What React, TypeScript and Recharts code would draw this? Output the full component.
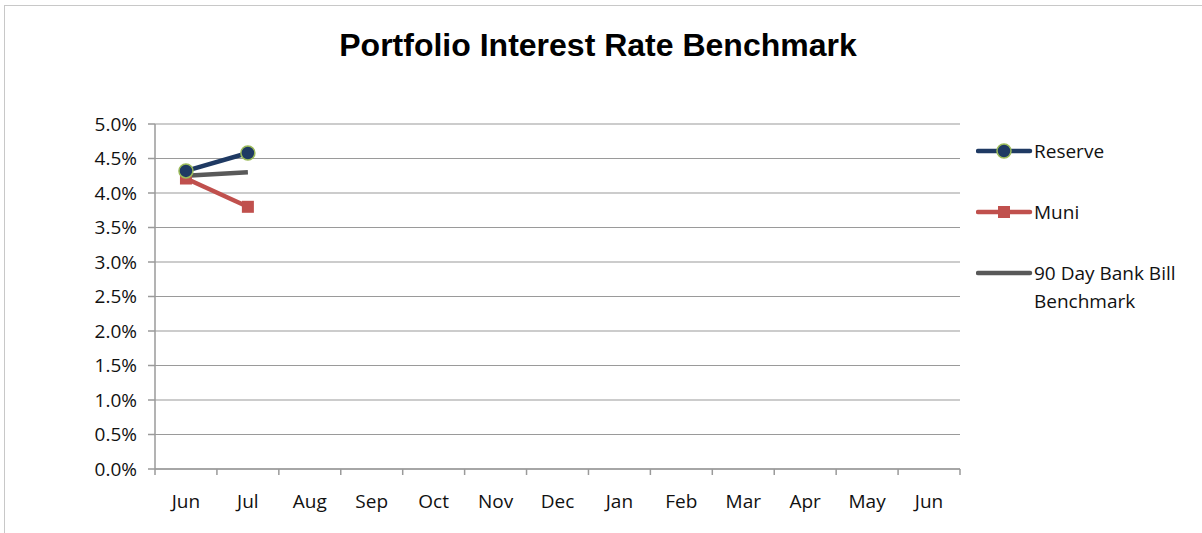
import React from 'react';
import { LineChart, Line, XAxis, YAxis, CartesianGrid } from 'recharts';

const months = ['Jun', 'Jul', 'Aug', 'Sep', 'Oct', 'Nov', 'Dec', 'Jan', 'Feb', 'Mar', 'Apr', 'May', 'Jun'];
const reserve = [4.32, 4.58];
const muni = [4.21, 3.8];
const bankBill = [4.25, 4.3];
const yTicks = [0, 0.5, 1, 1.5, 2, 2.5, 3, 3.5, 4, 4.5, 5];

const data = months.map((m, i) => ({
  x: i,
  month: m,
  reserve: i < reserve.length ? reserve[i] : null,
  muni: i < muni.length ? muni[i] : null,
  bankBill: i < bankBill.length ? bankBill[i] : null,
}));

const NAVY = '#1F3A63';
const RED = '#C0504D';
const GREY = '#595959';
const AXIS = '#9a9a9a';
const FONT = '"Open Sans", sans-serif';

const CHART_W = 1202;
const CHART_H = 533;
const Y_W = 155;
const M = { top: 124, right: 242, left: 0, bottom: 24 };
const PLOT_W = CHART_W - M.left - M.right - Y_W;
const BAND = PLOT_W / months.length;
const LABEL_OFFSET = 26;

const XTick = (props: any) => {
  const { x, y, payload, index } = props;
  const axisY = y - LABEL_OFFSET;
  return (
    <g>
      <line x1={x - BAND / 2} x2={x - BAND / 2} y1={axisY} y2={axisY + 6} stroke={AXIS} strokeWidth={1.5} />
      {index === months.length - 1 && (
        <line x1={x + BAND / 2} x2={x + BAND / 2} y1={axisY} y2={axisY + 6} stroke={AXIS} strokeWidth={1.5} />
      )}
      <text x={x} y={y} dy="0.71em" textAnchor="middle" fill="#111" fontSize={19} fontFamily={FONT}>
        {months[payload.value]}
      </text>
    </g>
  );
};

const Square = (props: any) => {
  const { cx, cy } = props;
  if (cx == null || cy == null) return null;
  return <rect x={cx - 6} y={cy - 6} width={12} height={12} fill={RED} />;
};

const LegendBox = () => {
  const item = (label: React.ReactNode, color: string, marker: React.ReactNode, top: number) => (
    <div style={{ position: 'absolute', left: 0, top, display: 'flex', alignItems: 'flex-start' }}>
      <svg width={58} height={20} style={{ marginTop: 4 }}>
        <line x1={2} x2={54} y1={10} y2={10} stroke={color} strokeWidth={4.5} strokeLinecap="round" />
        {marker}
      </svg>
      <div style={{ fontFamily: FONT, fontSize: 19, color: '#111', lineHeight: '28px' }}>{label}</div>
    </div>
  );
  return (
    <div style={{ position: 'absolute', left: 976, top: 137, width: 226, height: 200 }}>
      {item('Reserve', NAVY, <circle cx={28} cy={10} r={7} fill={NAVY} stroke="#9BBB59" strokeWidth={1.5} />, 0)}
      {item('Muni', RED, <rect x={22} y={4} width={12} height={12} fill={RED} />, 61)}
      {item(<span>90 Day Bank Bill<br />Benchmark</span>, GREY, null, 122)}
    </div>
  );
};

export default function App() {
  return (
    <div style={{ position: 'absolute', left: 0, top: 0, width: CHART_W, height: CHART_H, background: '#fff', overflow: 'hidden' }}>
      <div style={{ position: 'absolute', left: 4, top: 5, width: CHART_W + 10, height: CHART_H + 10, border: '1.5px solid #c8c8c8' }} />
      <div
        style={{
          position: 'absolute',
          left: 0,
          width: 1196,
          top: 27,
          textAlign: 'center',
          fontFamily: '"Liberation Sans", Arial, sans-serif',
          fontWeight: 'bold',
          fontSize: 32,
          color: '#000',
        }}
      >
        Portfolio Interest Rate Benchmark
      </div>
      <div style={{ position: 'absolute', left: 0, top: 0 }}>
        <LineChart width={CHART_W} height={CHART_H} data={data} margin={M}>
          <CartesianGrid vertical={false} stroke={AXIS} strokeWidth={1.2} />
          <XAxis
            dataKey="x"
            type="number"
            domain={[-0.5, 12.5]}
            ticks={months.map((_, i) => i)}
            interval={0}
            tickLine={false}
            tickSize={0}
            tickMargin={LABEL_OFFSET}
            tick={<XTick />}
            axisLine={{ stroke: AXIS, strokeWidth: 1.5 }}
            height={40}
          />
          <YAxis
            domain={[0, 5]}
            ticks={yTicks}
            width={Y_W}
            tickSize={7}
            tickMargin={11}
            tickLine={{ stroke: AXIS, strokeWidth: 1.5 }}
            axisLine={{ stroke: AXIS, strokeWidth: 1.5 }}
            tickFormatter={(v: number) => v.toFixed(1) + '%'}
            tick={{ fill: '#111', fontSize: 19, fontFamily: FONT }}
          />
          <Line dataKey="muni" stroke={RED} strokeWidth={4.5} dot={<Square />} isAnimationActive={false} />
          <Line dataKey="bankBill" stroke={GREY} strokeWidth={4.5} dot={false} isAnimationActive={false} />
          <Line
            dataKey="reserve"
            stroke={NAVY}
            strokeWidth={4.5}
            dot={{ r: 7, fill: NAVY, stroke: '#9BBB59', strokeWidth: 1.5 }}
            isAnimationActive={false}
          />
        </LineChart>
      </div>
      <LegendBox />
    </div>
  );
}
